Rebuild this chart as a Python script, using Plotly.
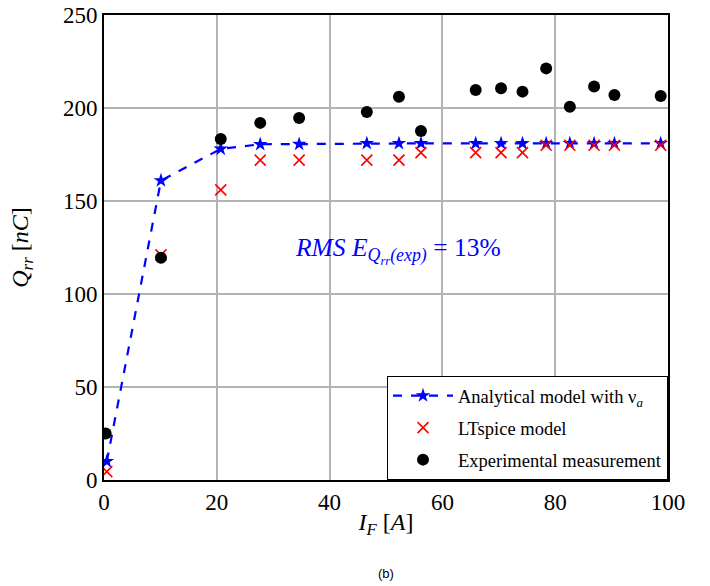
import plotly.graph_objects as go

# Data
if_analytical = [0.5, 10.1, 20.7, 27.7, 34.6, 46.6, 52.3, 56.2, 65.9, 70.4, 74.2, 78.4, 82.6, 86.9, 90.5, 98.7]
qrr_analytical = [10, 161, 178, 180.5, 180.6, 181, 181, 181, 181, 181, 181, 181, 181, 181, 181, 181]

if_ltspice = [0.5, 10.1, 20.7, 27.7, 34.6, 46.6, 52.3, 56.2, 65.9, 70.4, 74.2, 78.4, 82.6, 86.9, 90.5, 98.7]
qrr_ltspice = [4.5, 121, 156, 172, 172, 172, 172, 176, 176, 176, 176, 180, 180, 180, 180, 180]

if_exp = [0.3, 10.1, 20.7, 27.7, 34.6, 46.6, 52.3, 56.2, 65.9, 70.4, 74.2, 78.4, 82.6, 86.9, 90.5, 98.7]
qrr_exp = [25, 119.5, 183.3, 192, 194.6, 197.8, 206, 187.6, 209.7, 210.6, 208.8, 221.3, 200.7, 211.5, 207, 206.5]

x_ticks = [0, 20, 40, 60, 80, 100]
y_ticks = [0, 50, 100, 150, 200, 250]

SERIF = "Liberation Serif"

fig = go.Figure()
fig.add_trace(go.Scatter(
    x=if_analytical, y=qrr_analytical, mode="lines+markers",
    name="Analytical model with ν<sub><i>a</i></sub>", legendgroup="a",
    line=dict(color="blue", width=2.2, dash="dash"),
    marker=dict(symbol="star", size=11, color="blue"),
))
fig.add_trace(go.Scatter(
    x=if_ltspice, y=qrr_ltspice, mode="markers",
    name="LTspice model", legendgroup="b",
    marker=dict(symbol="x-thin", size=11, color="red", line=dict(color="red", width=1.6)),
))
fig.add_trace(go.Scatter(
    x=if_exp, y=qrr_exp, mode="markers",
    name="Experimental measurement", legendgroup="c",
    marker=dict(symbol="circle", size=12, color="black"),
))

fig.add_annotation(
    x=52.2, y=123.5, xref="x", yref="y",
    text="<i>RMS E<sub>Q<sub>rr</sub>(exp)</sub></i> = 13%",
    showarrow=False, font=dict(family=SERIF, size=25.5, color="blue"),
)
fig.add_annotation(
    x=0.5, y=0, xref="paper", yref="paper", yshift=-93, yanchor="middle",
    text="(b)", showarrow=False,
    font=dict(family="Liberation Sans", size=13, color="black"),
)

axis_common = dict(
    showgrid=True, gridcolor="#b3b3b3", gridwidth=1.5,
    showline=True, linecolor="black", linewidth=2, mirror=True,
    ticks="", zeroline=False, automargin=False,
    tickfont=dict(family=SERIF, size=23, color="black"),
)
fig.update_xaxes(range=[0, 100], tickvals=x_ticks,
                 title=dict(text="<i>I<sub>F</sub></i> [<i>A</i>]", font=dict(family=SERIF, size=24, color="black"), standoff=0),
                 **axis_common)
fig.update_yaxes(range=[0, 250], tickvals=y_ticks,
                 title=dict(text="<i>Q<sub>rr</sub></i> [<i>nC</i>]", font=dict(family=SERIF, size=24, color="black"), standoff=28),
                 **axis_common)

fig.update_layout(
    width=710, height=586,
    margin=dict(l=104, r=42, t=15, b=106),
    paper_bgcolor="white", plot_bgcolor="white",
    showlegend=True,
    legend=dict(
        x=1, y=0, xanchor="right", yanchor="bottom",
        bgcolor="white", bordercolor="black", borderwidth=1,
        font=dict(family=SERIF, size=18.5, color="black"),
        itemwidth=60, tracegroupgap=5,
    ),
)

fig.write_html("out.html", config={"displayModeBar": False},
               post_script="document.body.style.margin='0px';")
